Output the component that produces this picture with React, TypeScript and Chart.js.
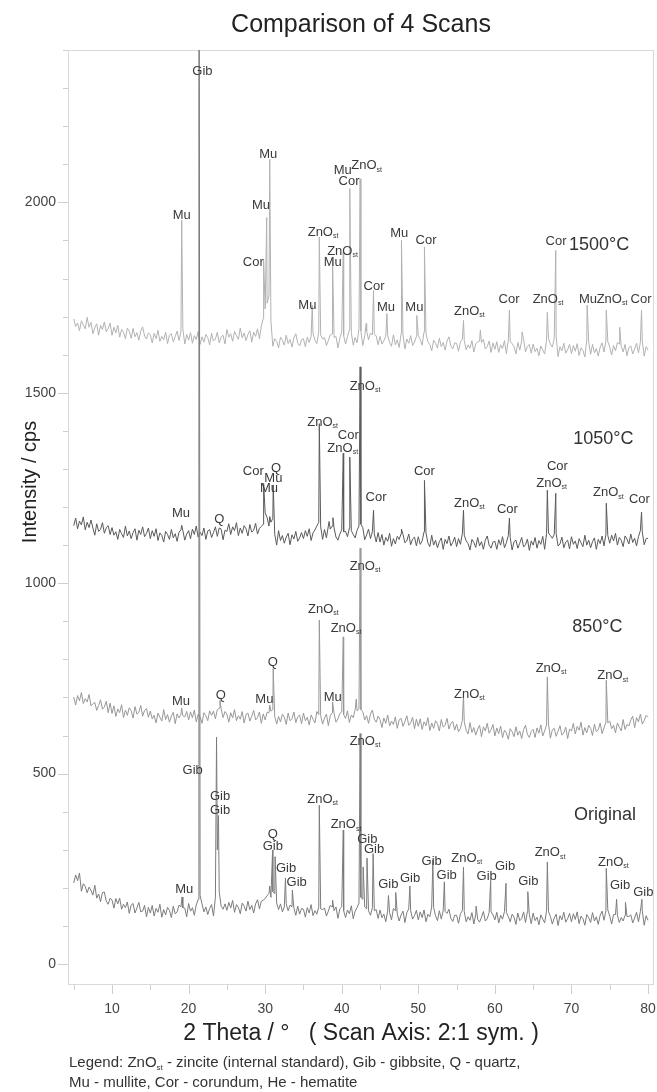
import React, { useEffect, useRef } from 'react';
import { Chart, registerables } from 'chart.js';

Chart.register(...registerables);

const FONT = '"Liberation Sans", Arial, Helvetica, sans-serif';

// Scans are sampled every 0.25° from 5° to 80° (baseline incl. noise), sharp peak maxima listed separately.
const SCAN_START = 5;
const SCAN_STEP = 0.25;

const scanNames = ['Original', '850°C', '1050°C', '1500°C'];

const base1500 = [
  1694,1674,1683,1663,1689,1678,1668,1698,1672,1685, 1655,1671,1681,1651,1677,1666,1686,1660,1669,1683,
  1651,1672,1657,1677,1646,1666,1659,1642,1670,1662, 1643,1669,1647,1658,1638,1662,1673,1649,1641,1657,
  1652,1631,1656,1642,1664,1635,1648,1639,1659,1629, 1651,1655,1634,1647,1662,1637,1660,1668,1628,1653,
  1638,1658,1630,1650,1640,1661,1627,1647,1633,1653, 1645,1626,1656,1636,1641,1659,1631,1646,1651,1628,
  1666,1646,1655,1635,1661,1650,1640,1670,1644,1657, 1637,1653,1663,1633,1659,1648,1668,1642,1675,1695,
  1720,1735,1755,1688,1622,1642,1635,1618,1646,1638, 1625,1651,1629,1640,1620,1644,1655,1631,1623,1639,
  1642,1621,1646,1632,1648,1655,1638,1629,1660,1652, 1641,1645,1624,1637,1652,1655,1645,1648,1618,1643,
  1660,1650,1628,1648,1665,1658,1625,1645,1631,1668, 1662,1624,1650,1662,1639,1657,1652,1655,1649,1626,
  1648,1628,1637,1648,1650,1632,1622,1652,1626,1639, 1619,1655,1652,1615,1641,1630,1650,1624,1633,1648,
  1650,1640,1625,1660,1656,1634,1627,1610,1638,1630, 1617,1643,1621,1632,1612,1636,1647,1623,1615,1631,
  1630,1609,1634,1640,1637,1613,1626,1617,1637,1607, 1629,1633,1635,1632,1640,1615,1621,1636,1606,1631,
  1614,1634,1606,1626,1616,1637,1603,1638,1635,1629, 1621,1602,1632,1612,1636,1640,1607,1622,1627,1604,
  1628,1608,1617,1597,1623,1612,1602,1638,1642,1628, 1620,1642,1648,1595,1621,1610,1630,1604,1613,1627,
  1603,1624,1609,1629,1598,1618,1611,1594,1638,1634, 1601,1627,1605,1616,1596,1620,1631,1607,1636,1634,
  1620,1599,1624,1610,1632,1628,1622,1607,1627,1597, 1619,1623,1602,1615,1630,1605,1632,1636,1596,1621,
  1612,
];

const base1050 = [
  1151,1171,1143,1163,1153,1174,1140,1160,1146,1166, 1145,1126,1156,1136,1141,1159,1131,1146,1151,1128,
  1146,1126,1135,1115,1141,1130,1120,1150,1124,1137, 1117,1133,1143,1113,1139,1128,1148,1122,1131,1145,
  1117,1138,1123,1143,1112,1132,1125,1108,1136,1128, 1115,1141,1119,1130,1110,1134,1140,1138,1113,1129,
  1138,1117,1142,1128,1150,1121,1134,1125,1145,1115, 1137,1141,1120,1133,1148,1123,1145,1142,1114,1139,
  1136,1156,1128,1148,1138,1159,1125,1145,1131,1151, 1143,1124,1154,1134,1139,1157,1129,1144,1149,1155,
  1185,1172,1150,1160,1170,1128,1100,1138,1112,1125, 1105,1121,1131,1101,1127,1116,1136,1110,1119,1133,
  1117,1138,1123,1143,1112,1132,1140,1150,1160,1148, 1115,1141,1119,1150,1142,1150,1145,1121,1113,1129,
  1140,1135,1136,1122,1145,1138,1128,1119,1139,1150, 1155,1146,1114,1127,1142,1117,1135,1130,1108,1133,
  1108,1128,1100,1120,1110,1131,1097,1117,1103,1123, 1115,1130,1128,1106,1111,1129,1101,1116,1121,1098,
  1122,1102,1111,1135,1132,1106,1096,1126,1100,1113, 1093,1109,1119,1089,1115,1104,1124,1098,1107,1121,
  1096,1117,1102,1130,1126,1111,1104,1087,1115,1107, 1094,1120,1098,1109,1089,1113,1124,1100,1092,1108,
  1110,1089,1114,1100,1122,1093,1106,1125,1120,1087, 1109,1113,1092,1105,1120,1095,1101,1116,1086,1111,
  1100,1120,1092,1112,1102,1123,1089,1130,1132,1125, 1118,1128,1130,1098,1103,1121,1093,1108,1113,1090,
  1122,1102,1111,1091,1117,1106,1096,1126,1100,1113, 1093,1109,1119,1089,1115,1104,1124,1098,1128,1125,
  1105,1126,1111,1131,1100,1120,1113,1096,1124,1116, 1103,1129,1107,1118,1098,1122,1138,1135,1101,1117,
  1118,
];

const base850 = [
  701,680,705,691,713,684,697,688,708,678, 683,687,666,679,694,669,675,690,660,685,
  658,678,650,670,660,681,647,667,653,673, 665,646,676,656,661,679,651,666,671,648,
  664,644,653,633,659,648,638,668,642,655, 635,651,661,631,657,646,656,652,649,663,
  641,662,647,667,636,656,649,632,660,652, 639,665,653,664,644,668,672,670,647,663,
  656,635,660,646,668,639,652,643,663,633, 655,659,638,651,666,641,647,662,632,657,
  641,661,660,664,668,650,630,650,636,656, 648,629,659,639,644,662,634,649,654,631,
  659,639,648,628,654,643,633,663,655,652, 630,646,656,626,652,660,658,635,644,658,
  662,655,645,665,634,654,647,668,665,670, 668,663,641,652,632,656,667,643,635,651,
  642,621,646,632,654,625,638,629,649,619, 641,645,624,637,652,627,633,648,618,643,
  624,644,616,636,626,647,613,633,619,639, 631,612,642,622,627,645,617,632,637,614,
  630,610,619,640,636,614,604,634,608,621, 601,617,627,597,623,612,632,606,615,629,
  599,620,605,625,594,614,607,590,618,610, 597,623,601,612,592,616,627,603,595,611,
  616,595,620,606,628,599,612,628,630,593, 615,619,598,611,626,601,607,622,592,617,
  612,632,604,624,614,635,601,621,607,627, 619,600,630,610,615,633,605,620,635,633,
  638,618,627,607,633,622,612,642,616,629, 625,641,651,621,647,636,656,630,639,653,
  648,
];

const baseOriginal = [
  213,234,219,239,191,211,204,187,202,194, 181,207,173,184,164,188,189,165,157,173,
  168,147,172,158,173,144,157,148,163,133, 155,159,134,147,162,137,139,154,124,149,
  134,154,126,146,136,157,123,143,129,149, 141,122,152,132,137,155,150,148,147,124,
  159,139,148,128,155,170,180,158,137,150, 130,146,156,126,175,300,190,152,144,158,
  141,162,147,167,136,156,149,132,160,152, 139,165,143,154,134,158,169,145,165,168,
  172,180,185,175,190,185,160,143,158,137, 150,158,140,155,150,147,128,152,131,146,
  144,123,148,134,156,127,140,131,150,145, 143,147,126,139,154,150,140,150,120,145,
  150,140,122,142,132,153,119,139,148,160, 175,170,150,145,140,128,148,140,143,120,
  142,122,131,111,140,135,116,146,140,132, 113,129,139,109,135,145,140,118,127,141,
  116,137,122,142,111,131,124,150,148,127, 114,140,118,140,138,133,144,120,112,128,
  128,107,132,140,138,111,124,115,135,105, 130,118,110,123,138,113,119,135,138,129,
  116,136,108,128,118,138,135,125,111,131, 123,104,134,114,119,137,109,138,130,106,
  134,114,123,103,129,118,108,140,138,125, 105,121,131,101,127,116,136,110,119,133,
  111,132,117,137,106,126,119,102,130,122, 109,135,113,124,104,128,139,115,140,142,
  126,105,130,130,128,109,122,113,128,125, 125,129,108,121,136,111,138,140,102,127,
  115,
];

// Peak maxima: [2θ, intensity]
const peaks1500 = [
  [19.1, 1953], [29.8, 1848], [30.2, 1960], [30.6, 2113], [36.15, 1730], [37.07, 1909],
  [38.8, 1848], [40.2, 1870], [41.05, 2036], [42.4, 2062], [43.2, 1682], [44.15, 1769],
  [45.9, 1708], [47.8, 1900], [49.8, 1703], [50.8, 1883], [55.9, 1690], [58.1, 1665],
  [61.9, 1717], [63.55, 1660], [66.85, 1711], [67.95, 1874], [72.05, 1730], [74.55, 1717],
  [76.3, 1672], [79.15, 1717],
];
const peaks1050 = [
  [19.1, 1152], [24.1, 1144], [29.8, 1262], [30.6, 1175], [31.05, 1258], [37.07, 1419],
  [38.35, 1162], [38.85, 1172], [40.2, 1341], [41.05, 1331], [42.4, 1568], [44.15, 1192],
  [47.8, 1142], [50.8, 1270], [55.9, 1192], [61.9, 1171], [66.85, 1244], [67.95, 1236],
  [74.55, 1210], [79.15, 1187],
];
const peaks850 = [
  [19.1, 672], [24.1, 692], [30.6, 680], [31.05, 776], [37.07, 903], [38.8, 688],
  [40.2, 859], [41.9, 696], [42.4, 1092], [55.9, 706], [66.85, 754], [74.55, 745],
];
const peaksOriginal = [
  [19.15, 176], [21.35, 3500], [23.65, 596], [23.9, 390], [30.6, 205], [30.97, 299],
  [31.3, 282], [32.65, 226], [33.55, 194], [37.07, 417], [38.8, 168], [40.2, 352],
  [42.4, 605], [42.8, 255], [43.3, 278], [44.1, 290], [46.1, 180], [47.05, 188],
  [48.9, 205], [51.9, 273], [53.4, 216], [55.9, 254], [57.55, 152], [59.45, 220],
  [61.45, 212], [64.3, 190], [66.85, 268], [74.55, 251], [75.9, 170], [77.05, 162],
  [79.2, 170],
];

// Phase labels: [2θ, intensity, text]; "_st" = subscript "st"
const labels1500 = [
  [19.1, 1969, 'Mu'], [30.41, 2129, 'Mu'], [29.46, 1995, 'Mu'], [28.45, 1845, 'Cor'],
  [35.51, 1731, 'Mu'], [37.56, 1925, 'ZnO_st'], [38.82, 1845, 'Mu'], [40.1, 1874, 'ZnO_st'],
  [40.13, 2088, 'Mu'], [40.95, 2058, 'Cor'], [43.26, 2099, 'ZnO_st'], [44.22, 1781, 'Cor'],
  [45.78, 1727, 'Mu'], [47.52, 1922, 'Mu'], [49.48, 1727, 'Mu'], [51.01, 1903, 'Cor'],
  [56.67, 1717, 'ZnO_st'], [61.85, 1748, 'Cor'], [66.94, 1748, 'ZnO_st'], [67.99, 1900, 'Cor'],
  [72.17, 1748, 'Mu'], [75.3, 1748, 'ZnO_st'], [79.09, 1748, 'Cor'],
];
const labels1050 = [
  [19.01, 1185, 'Mu'], [24.02, 1170, 'Q'], [28.45, 1297, 'Cor'], [31.42, 1305, 'Q'],
  [31.07, 1279, 'Mu'], [30.5, 1253, 'Mu'], [37.5, 1426, 'ZnO_st'], [40.86, 1390, 'Cor'],
  [40.13, 1358, 'ZnO_st'], [43.04, 1520, 'ZnO_st'], [44.48, 1227, 'Cor'], [50.79, 1297, 'Cor'],
  [56.67, 1212, 'ZnO_st'], [61.63, 1196, 'Cor'], [67.42, 1266, 'ZnO_st'], [68.16, 1310, 'Cor'],
  [74.82, 1240, 'ZnO_st'], [78.87, 1222, 'Cor'],
];
const labels850 = [
  [19.01, 693, 'Mu'], [24.2, 708, 'Q'], [29.89, 699, 'Mu'], [30.99, 796, 'Q'],
  [37.6, 934, 'ZnO_st'], [38.82, 704, 'Mu'], [40.56, 884, 'ZnO_st'], [43.04, 1047, 'ZnO_st'],
  [56.67, 712, 'ZnO_st'], [67.33, 779, 'ZnO_st'], [75.39, 760, 'ZnO_st'],
];
const labelsOriginal = [
  [21.8, 2346, 'Gib'], [19.44, 199, 'Mu'], [20.54, 511, 'Gib'], [24.1, 444, 'Gib'], [24.1, 406, 'Gib'],
  [30.99, 343, 'Q'], [30.99, 312, 'Gib'], [32.72, 254, 'Gib'], [34.12, 218, 'Gib'],
  [37.51, 435, 'ZnO_st'], [40.56, 369, 'ZnO_st'], [43.04, 588, 'ZnO_st'], [43.34, 330, 'Gib'],
  [44.22, 304, 'Gib'], [46.09, 212, 'Gib'], [48.92, 228, 'Gib'], [51.75, 273, 'Gib'],
  [53.71, 235, 'Gib'], [56.32, 280, 'ZnO_st'], [58.93, 234, 'Gib'], [61.33, 260, 'Gib'],
  [64.37, 220, 'Gib'], [67.2, 295, 'ZnO_st'], [75.47, 271, 'ZnO_st'], [76.34, 210, 'Gib'],
  [79.39, 190, 'Gib'],
];

// Scan name labels: [2θ, intensity]
const scanLabelPos = [[74.39, 396], [73.38, 888], [74.17, 1382], [73.6, 1892]];

const titleText = 'Comparison of 4 Scans';
const xTitleText = '2 Theta / °   ( Scan Axis: 2:1 sym. )';
const yTitleText = 'Intensity / cps';
const legendLines = [
  'Legend: ZnO_st - zincite (internal standard), Gib - gibbsite, Q - quartz,',
  'Mu - mullite, Cor - corundum, He - hematite',
];

const xTickStep = 5;
const yTickStep = 100;

const lineColors = ['#7c7c7c', '#989898', '#5a5a5a', '#b2b2b2'];

function buildSeries(base: number[], peaks: number[][]) {
  const pts = base.map((y, i) => ({ x: SCAN_START + i * SCAN_STEP, y }));
  peaks.forEach(([x, y]) => pts.push({ x, y }));
  pts.sort((a, b) => a.x - b.x);
  return pts;
}

function drawRich(ctx: CanvasRenderingContext2D, text: string, x: number, y: number, size: number, align: 'center' | 'left', color: string) {
  const parts = text.split(/(_st)/).filter((p) => p !== '');
  const subSize = Math.max(6, Math.round(size * 0.55));
  const segs = parts.map((p) => (p === '_st' ? { t: 'st', sub: true, w: 0 } : { t: p, sub: false, w: 0 }));
  let total = 0;
  segs.forEach((s) => {
    ctx.font = `${s.sub ? subSize : size}px ${FONT}`;
    s.w = ctx.measureText(s.t).width;
    total += s.w;
  });
  let cx = align === 'left' ? x : x - total / 2;
  ctx.textAlign = 'left';
  ctx.textBaseline = 'alphabetic';
  ctx.fillStyle = color;
  const baseline = y + size * 0.36;
  segs.forEach((s) => {
    ctx.font = `${s.sub ? subSize : size}px ${FONT}`;
    ctx.fillText(s.t, cx, s.sub ? baseline + size * 0.18 : baseline);
    cx += s.w;
  });
}

const decorPlugin = {
  id: 'decor',
  beforeDatasetsDraw(chart: any) {
    const { ctx, chartArea } = chart;
    const xs = chart.scales.x;
    const ys = chart.scales.y;
    ctx.save();
    ctx.strokeStyle = '#d9d9d9';
    ctx.lineWidth = 1;
    ctx.strokeRect(chartArea.left + 0.5, chartArea.top + 0.5, chartArea.right - chartArea.left - 1, chartArea.bottom - chartArea.top - 1);
    ctx.strokeStyle = '#cfcfcf';
    ctx.beginPath();
    for (let v = 0; v <= ys.max + 0.001; v += yTickStep) {
      const py = Math.round(ys.getPixelForValue(v)) + 0.5;
      const len = v % 500 === 0 ? 10 : 5;
      ctx.moveTo(chartArea.left - len, py);
      ctx.lineTo(chartArea.left, py);
    }
    for (let v = xTickStep; v <= xs.max + 0.001; v += xTickStep) {
      const px = Math.round(xs.getPixelForValue(v)) + 0.5;
      const len = v % 10 === 0 ? 9 : 5;
      ctx.moveTo(px, chartArea.bottom);
      ctx.lineTo(px, chartArea.bottom + len);
    }
    ctx.stroke();
    ctx.restore();
  },
  afterDatasetsDraw(chart: any) {
    const { ctx } = chart;
    const xs = chart.scales.x;
    const ys = chart.scales.y;
    ctx.save();
    const all = [labelsOriginal, labels850, labels1050, labels1500];
    all.forEach((list) => {
      list.forEach(([t, v, text]: any) => {
        drawRich(ctx, text, xs.getPixelForValue(t), ys.getPixelForValue(v), 13, 'center', '#3a3a3a');
      });
    });
    scanNames.forEach((name, i) => {
      const [t, v] = scanLabelPos[i];
      drawRich(ctx, name, xs.getPixelForValue(t), ys.getPixelForValue(v), 18, 'center', '#333333');
    });
    ctx.restore();
  },
  afterDraw(chart: any) {
    const { ctx, chartArea } = chart;
    ctx.save();
    ctx.translate(30, 482);
    ctx.rotate(-Math.PI / 2);
    ctx.font = `20px ${FONT}`;
    ctx.fillStyle = '#222222';
    ctx.textAlign = 'center';
    ctx.textBaseline = 'middle';
    ctx.fillText(yTitleText, 0, 0);
    ctx.restore();
    ctx.save();
    legendLines.forEach((line, i) => {
      drawRich(ctx, line, chartArea.left + 1, chartArea.bottom + 77 + i * 20, 15, 'left', '#333333');
    });
    ctx.restore();
  },
};

export default function App() {
  const canvasRef = useRef<HTMLCanvasElement | null>(null);

  useEffect(() => {
    if (!canvasRef.current) return;
    const series = [
      buildSeries(baseOriginal, peaksOriginal),
      buildSeries(base850, peaks850),
      buildSeries(base1050, peaks1050),
      buildSeries(base1500, peaks1500),
    ];
    const chart = new Chart(canvasRef.current, {
      type: 'line',
      data: {
        datasets: series.map((data, i) => ({
          label: scanNames[i],
          data,
          borderColor: lineColors[i],
          borderWidth: 1,
          pointRadius: 0,
          tension: 0,
          fill: false,
        })),
      },
      options: {
        responsive: false,
        animation: false,
        events: [],
        layout: { padding: { left: 0, right: 3, top: 0, bottom: 45 } },
        plugins: {
          legend: { display: false },
          tooltip: { enabled: false },
          title: {
            display: true,
            fullSize: false,
            text: titleText,
            color: '#222222',
            font: { family: FONT, size: 25, weight: 'normal' },
            padding: { top: 10, bottom: 10 },
          },
        },
        scales: {
          x: {
            type: 'linear',
            min: 4.25,
            max: 80.78,
            afterFit: (s: any) => { s.height = 62; s.paddingLeft = 0; s.paddingRight = 0; },
            grid: { display: false, drawTicks: true, tickLength: 9 },
            border: { display: false },
            ticks: {
              stepSize: xTickStep,
              includeBounds: false,
              autoSkip: false,
              maxRotation: 0,
              padding: 7,
              color: '#444444',
              font: { family: FONT, size: 14 },
              callback: (v: any) => (Number(v) % 10 === 0 ? String(v) : ''),
            },
            title: {
              display: true,
              text: xTitleText,
              color: '#222222',
              font: { family: FONT, size: 23 },
              padding: { top: 0, bottom: 0 },
            },
          },
          y: {
            type: 'linear',
            min: -55,
            max: 2400,
            afterFit: (s: any) => { s.width = 68; },
            grid: { display: false, drawTicks: true, tickLength: 10 },
            border: { display: false },
            ticks: {
              stepSize: yTickStep,
              includeBounds: false,
              autoSkip: false,
              padding: 2,
              color: '#444444',
              font: { family: FONT, size: 14 },
              callback: (v: any) => (Number(v) % 500 === 0 ? String(v) : ''),
            },
            title: { display: false },
          },
        },
      },
      plugins: [decorPlugin],
    } as any);
    return () => chart.destroy();
  }, []);

  return (
    <div style={{ position: 'absolute', left: 0, top: 0, width: 657, height: 1092, background: '#ffffff' }}>
      <canvas ref={canvasRef} width={657} height={1092} style={{ display: 'block', width: 657, height: 1092 }} />
    </div>
  );
}
